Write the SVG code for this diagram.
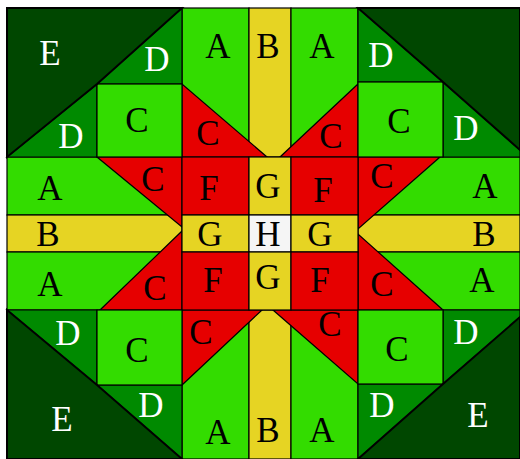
<svg xmlns="http://www.w3.org/2000/svg" width="520" height="459" viewBox="0 0 520 459">
<style>
.s{stroke:#000;stroke-width:1.2;stroke-linejoin:miter}
.e{fill:#004700;stroke:#000;stroke-width:2}
.d{fill:#008a00}
.a{fill:#33dc00}
.r{fill:#e60000}
.y{fill:#e6d423}
.h{fill:#f5f5f5}
text{font-family:"Liberation Serif","Times New Roman",serif;font-size:35px;text-anchor:middle;fill:#000}
text.w{fill:#fff}
</style>
<rect width="520" height="459" fill="#fff"/>
<g id="connectors"></g>
<g id="background-strips">
<rect id="A-top-left" class="a s" x="182" y="8" width="67" height="149"/>
<rect id="B-top" class="y s" x="249" y="8" width="42" height="149"/>
<rect id="A-top-right" class="a s" x="291" y="8" width="67" height="149"/>
<rect id="A-left-upper" class="a s" x="7" y="157" width="175" height="58"/>
<rect id="B-left" class="y s" x="7" y="215" width="175" height="37"/>
<rect id="A-left-lower" class="a s" x="7" y="252" width="175" height="58"/>
<rect id="A-right-upper" class="a s" x="358" y="157" width="162" height="58"/>
<rect id="B-right" class="y s" x="358" y="215" width="162" height="37"/>
<rect id="A-right-lower" class="a s" x="358" y="252" width="162" height="58"/>
<rect id="A-bottom-left" class="a s" x="182" y="310" width="67" height="149"/>
<rect id="B-bottom" class="y s" x="249" y="310" width="42" height="149"/>
<rect id="A-bottom-right" class="a s" x="291" y="310" width="67" height="149"/>
</g>
<g id="red-triangles">
<polygon class="r s" points="182,84 182,157 267,157"/>
<polygon class="r s" points="358,84 358,157 280,157"/>
<polygon class="r s" points="97,157 182,157 182,227"/>
<polygon class="r s" points="182,231 182,310 100,310"/>
<polygon class="r s" points="358,157 440,157 358,229"/>
<polygon class="r s" points="358,234 358,310 443,310"/>
<polygon class="r s" points="182,310 262,310 182,385"/>
<polygon class="r s" points="273,310 358,310 358,384"/>
</g>
<g id="center">
<rect class="r s" x="182" y="157" width="67" height="58"/>
<rect class="y s" x="249" y="157" width="42" height="58"/>
<rect class="r s" x="291" y="157" width="67" height="58"/>
<rect class="y s" x="182" y="215" width="67" height="37"/>
<rect class="h s" x="249" y="215" width="42" height="37"/>
<rect class="y s" x="291" y="215" width="67" height="37"/>
<rect class="r s" x="182" y="252" width="67" height="58"/>
<rect class="y s" x="249" y="252" width="42" height="58"/>
<rect class="r s" x="291" y="252" width="67" height="58"/>
</g>
<g id="corner-top-left">
<polygon class="d s" points="182,8 182,84 97,84"/>
<polygon class="d s" points="97,84 97,157 7,157"/>
<rect class="a s" x="97" y="84" width="85" height="73"/>
<polygon class="e" points="7,8 182,8 97,84 7,157"/>
</g>
<g id="corner-top-right">
<polygon class="d s" points="358,8 443,82 358,82"/>
<polygon class="d s" points="443,82 520,150 520,157 443,157"/>
<rect class="a s" x="358" y="82" width="85" height="75"/>
<polygon class="e" points="358,8 520,8 520,150 443,82"/>
</g>
<g id="corner-bottom-left">
<polygon class="d s" points="7,310 97,310 97,385"/>
<polygon class="d s" points="97,385 182,385 182,459"/>
<rect class="a s" x="97" y="310" width="85" height="75"/>
<polygon class="e" points="7,310 97,385 182,459 7,459"/>
</g>
<g id="corner-bottom-right">
<polygon class="d s" points="443,310 520,310 520,317 443,384"/>
<polygon class="d s" points="358,384 443,384 358,459"/>
<rect class="a s" x="358" y="310" width="85" height="74"/>
<polygon class="e" points="520,317 520,459 358,459 443,384"/>
</g>
<g id="labels">
<text class="w" x="50" y="65">E</text>
<text class="w" x="157" y="71">D</text>
<text class="w" x="71" y="148">D</text>
<text x="137" y="132">C</text>
<text x="208" y="145">C</text>
<text x="218" y="58">A</text>
<text x="268" y="58">B</text>
<text x="322" y="58">A</text>
<text class="w" x="381" y="67">D</text>
<text x="399" y="133">C</text>
<text class="w" x="466" y="140">D</text>
<text x="331" y="148">C</text>
<text x="50" y="200">A</text>
<text x="153" y="191">C</text>
<text x="209" y="200">F</text>
<text x="268" y="198">G</text>
<text x="323" y="202">F</text>
<text x="382" y="188">C</text>
<text x="485" y="198">A</text>
<text x="48" y="246">B</text>
<text x="210" y="246">G</text>
<text x="268" y="246">H</text>
<text x="320" y="246">G</text>
<text x="484" y="246">B</text>
<text x="50" y="296">A</text>
<text x="155" y="300">C</text>
<text x="213" y="292">F</text>
<text x="268" y="289">G</text>
<text x="320" y="292">F</text>
<text x="382" y="296">C</text>
<text x="482" y="292">A</text>
<text class="w" x="68" y="345">D</text>
<text x="137" y="362">C</text>
<text x="201" y="344">C</text>
<text x="330" y="336">C</text>
<text x="397" y="361">C</text>
<text class="w" x="466" y="344">D</text>
<text class="w" x="62" y="431">E</text>
<text class="w" x="151" y="417">D</text>
<text x="218" y="444">A</text>
<text x="268" y="442">B</text>
<text x="322" y="442">A</text>
<text class="w" x="382" y="417">D</text>
<text class="w" x="478" y="427">E</text>
</g>
</svg>
